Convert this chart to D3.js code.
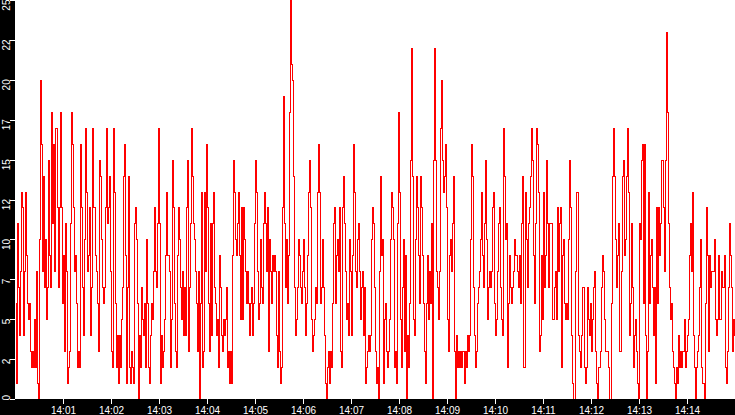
<!DOCTYPE html>
<html><head><meta charset="utf-8">
<script src="https://cdn.jsdelivr.net/npm/d3@7"></script>
<style>html,body{margin:0;padding:0;background:#fff;overflow:hidden}</style>
</head><body><svg id="c" width="735" height="415"></svg>
<script>
const startTime = "2000-01-01T14:00:00";
const endTime = "2000-01-01T14:15:00";
const sampleMs = 1250;
const values = [
6,1,11,7,4,8,13,12,4,8,13,9,6,5,6,3,2,3,2,5,2,8,1,0,10,20,16,8,14,7,
10,5,7,15,9,7,18,11,16,8,
17,17,12,7,12,18,12,6,9,3,
11,8,1,2,3,11,18,16,12,8,
9,6,2,3,2,16,12,7,4,
10,17,13,8,9,12,4,7,17,12,
12,9,8,6,3,15,14,10,7,6,
7,12,17,11,12,14,8,3,2,17,
13,6,2,4,1,4,2,5,7,14,
16,9,1,7,14,2,1,3,2,1,
11,12,10,6,0,4,2,7,5,4,
6,2,10,6,2,1,4,6,5,
8,12,8,7,11,17,11,1,4,2,
3,5,9,13,9,9,8,2,5,15,
12,6,3,2,9,12,10,7,5,8,
4,7,4,12,15,3,7,11,17,14,
11,10,8,6,3,8,0,6,13,2,
3,13,8,16,12,6,3,11,4,
11,13,7,6,4,5,2,9,7,
4,3,5,4,5,7,2,3,1,
3,1,9,15,13,10,9,11,13,9,
5,12,5,12,10,8,6,8,6,4,
6,7,4,6,11,15,13,8,5,
6,10,7,6,11,13,11,8,12,3,
10,8,6,9,8,9,
8,4,2,8,3,1,2,12,19,11,
7,10,6,9,18,25,21,20,14,7,
4,5,7,10,9,7,6,8,10,
7,4,6,9,13,15,12,5,3,4,
5,7,6,13,16,13,6,7,10,7,
4,1,0,2,3,1,3,2,6,
11,12,6,9,10,8,12,3,2,12,
14,11,8,5,6,4,10,8,4,9,
16,13,8,7,10,11,8,5,7,8,
4,7,1,2,3,4,3,4,10,12,
11,7,3,1,2,0,8,14,9,10,
1,5,6,3,2,3,5,
10,13,12,10,2,3,1,11,18,13,
5,2,7,10,3,9,0,4,2,6,
15,22,14,5,4,10,14,12,9,6,
14,12,9,6,3,1,6,9,5,8,
6,11,0,15,22,15,8,7,5,
8,17,20,15,13,14,16,12,5,3,
9,10,8,11,14,3,0,4,2,3,
2,3,2,3,3,1,3,2,
4,3,4,10,16,14,7,4,2,
3,6,7,8,10,13,9,7,11,15,
10,5,7,8,7,8,12,13,6,4,
5,8,11,12,7,5,4,17,14,
10,11,2,6,9,7,6,7,8,10,
9,9,8,7,9,6,11,14,2,2,
13,10,7,11,12,14,17,15,9,6,
11,17,16,13,3,4,9,5,13,7,
9,15,11,7,11,11,11,5,5,7,
8,5,12,8,11,12,2,9,10,6,
5,6,5,10,15,12,4,1,0,0,
8,13,13,4,3,2,4,7,7,2,
1,2,7,5,4,6,3,5,7,8,
3,1,0,2,2,3,7,9,8,5,
3,3,3,2,0,0,6,14,17,
14,10,7,9,11,3,
3,8,14,15,9,10,14,17,13,4,
6,11,7,2,4,5,3,1,0,11,
10,15,16,6,16,4,0,3,13,6,
9,10,7,4,7,1,12,6,12,9,
11,15,15,12,8,15,23,18,11,7,
5,6,3,2,1,0,2,1,4,2,
3,2,3,3,5,2,3,4,5,9,
11,8,13,4,2,0,2,3,4,7,
10,2,1,1,0,6,12,9,3,
9,7,8,8,8,10,5,4,5,9,
5,5,8,7,7,9,2,1,3,
7,11,9,7,3,5,4
];
const xTickLabels = ["14:01","14:02","14:03","14:04","14:05","14:06","14:07","14:08","14:09","14:10","14:11","14:12","14:13","14:14"];
const yTickValues = [0,2.5,5,7.5,10,12.5,15,17.5,20,22.5,25];
const yDomain = [0,25];

const W = 735, H = 415, left = 15, bottom = 399;
const FONT = "'Liberation Sans', Arial, sans-serif";
const svg = d3.select("#c");
const t0 = new Date(startTime), t1 = new Date(endTime);
const data = values.map((v, i) => ({ t: new Date(+t0 + i * sampleMs), v }));
const xTicks = xTickLabels.map(s => new Date("2000-01-01T" + s + ":00"));

const x = d3.scaleTime().domain([t0, t1]).range([left, W]);
const y = d3.scaleLinear().domain(yDomain).range([bottom, 0]);

svg.append("rect").attr("width", W).attr("height", H).attr("fill", "#fff");

svg.append("defs").append("clipPath").attr("id", "plot")
  .append("rect").attr("x", left).attr("y", 0).attr("width", W - left).attr("height", bottom);

const line = d3.line().x(d => x(d.t)).y(d => y(d.v)).curve(d3.curveStepAfter);
svg.append("g").attr("clip-path", "url(#plot)")
  .append("path").datum(data)
  .attr("d", line)
  .attr("transform", "translate(0.5,0.5)")
  .attr("fill", "none")
  .attr("stroke", "#ff0000")
  .attr("stroke-width", 1)
  .attr("shape-rendering", "crispEdges");

// black axis strips
svg.append("rect").attr("x", 0).attr("y", 0).attr("width", left).attr("height", H).attr("fill", "#000");
svg.append("rect").attr("x", 0).attr("y", bottom).attr("width", W).attr("height", H - bottom).attr("fill", "#000");

// bottom axis
const gx = svg.append("g").attr("transform", `translate(0,${bottom})`)
  .call(d3.axisBottom(x).tickValues(xTicks).tickFormat(d3.timeFormat("%H:%M")).tickSize(5).tickPadding(3));
gx.select(".domain").remove();
gx.selectAll("line").attr("stroke", "#fff").attr("shape-rendering", "crispEdges");
gx.selectAll("text").attr("fill", "#fff").style("font-family", FONT).style("font-size", "10px");

// left axis
const gy = svg.append("g").attr("transform", `translate(${left},0)`)
  .call(d3.axisLeft(y).tickValues(yTickValues).tickFormat(d => String(Math.floor(d))).tickSize(5));
gy.select(".domain").remove();
gy.selectAll("line").attr("stroke", "#fff").attr("shape-rendering", "crispEdges");
gy.selectAll("text")
  .attr("fill", "#fff")
  .style("font-family", FONT).style("font-size", "10px")
  .attr("text-anchor", "end")
  .attr("x", null).attr("dy", null)
  .each(function(d) {
    const len = this.getComputedTextLength();
    const ty = y(d);
    let top = -1;
    if (ty + top + len > bottom + 1) top = bottom + 1 - len - ty;
    d3.select(this).attr("transform", `translate(-5.5,${top}) rotate(-90)`);
  });
</script>
</body></html>
